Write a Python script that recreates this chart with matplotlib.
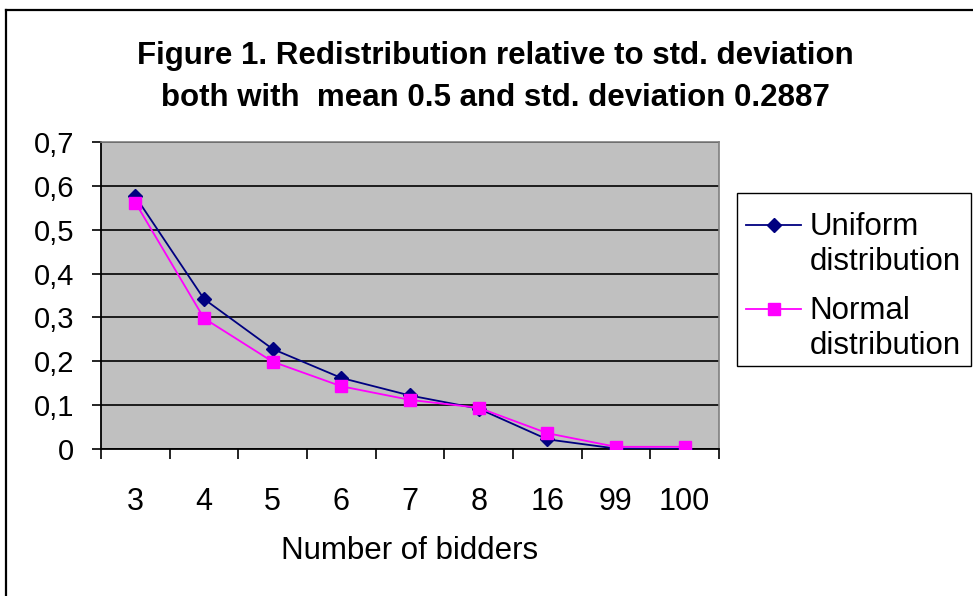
import matplotlib
matplotlib.use("Agg")
import matplotlib.pyplot as plt
from matplotlib.lines import Line2D
from matplotlib.patches import Rectangle
from matplotlib.legend_handler import HandlerLine2D
import numpy as np

categories = ["3", "4", "5", "6", "7", "8", "16", "99", "100"]
uniform = [0.576, 0.342, 0.228, 0.162, 0.122, 0.092, 0.022, 0.001, 0.0]
normal = [0.562, 0.298, 0.199, 0.143, 0.112, 0.094, 0.036, 0.005, 0.005]
y_ticks = [0, 0.1, 0.2, 0.3, 0.4, 0.5, 0.6, 0.7]
y_labels = ["0", "0,1", "0,2", "0,3", "0,4", "0,5", "0,6", "0,7"]

plt.rcParams['font.family'] = ['Liberation Sans', 'DejaVu Sans']

W, H = 973, 596
fig = plt.figure(figsize=(W / 100, H / 100), dpi=100)

# outer chart border (left and top edges visible)
fig.add_artist(Line2D([6 / W, 6 / W], [0, 1 - 10 / H], transform=fig.transFigure,
                      color='black', linewidth=1.6))
fig.add_artist(Line2D([6 / W, 1], [1 - 10 / H, 1 - 10 / H], transform=fig.transFigure,
                      color='black', linewidth=1.6))

x0, x1 = 101, 719
y0, y1 = 142, 449
ax = fig.add_axes([x0 / W, 1 - y1 / H, (x1 - x0) / W, (y1 - y0) / H])
ax.set_facecolor('#C0C0C0')

x = np.arange(len(categories))
l1, = ax.plot(x, uniform, color='#000080', marker='D', markersize=7.5, linewidth=1.3,
              label='Uniform\ndistribution', zorder=3)
l2, = ax.plot(x, normal, color='#FF00FF', marker='s', markersize=8, linewidth=1.3,
              markeredgecolor='#FF00FF', label='Normal\ndistribution', zorder=4)

ax.set_xlim(-0.5, len(categories) - 0.5)
ax.set_ylim(0, 0.7)
ax.set_yticks(y_ticks)
ax.set_yticklabels(y_labels, fontsize=21)
ax.yaxis.grid(True, color='black', linewidth=1.2)
ax.set_axisbelow(True)

ax.set_xticks(x)
ax.set_xticklabels(categories, fontsize=22)
ax.set_xticks(np.arange(-0.5, len(categories), 1.0), minor=True)
ax.tick_params(axis='x', which='major', length=0, pad=27)
ax.tick_params(axis='x', which='minor', length=7, width=1.2, color='black')
ax.tick_params(axis='y', which='major', length=6.5, width=1.2, color='black', pad=13)

for s in ['top', 'right']:
    ax.spines[s].set_color('#808080')
    ax.spines[s].set_linewidth(1.2)
for s in ['left', 'bottom']:
    ax.spines[s].set_color('black')
    ax.spines[s].set_linewidth(1.3)

ax.set_xlabel('Number of bidders', fontsize=22.5, labelpad=14)

fig.text(495 / W, 1 - 56 / H, 'Figure 1. Redistribution relative to std. deviation',
         ha='center', va='center', fontsize=22.5, fontweight='bold')
fig.text(495 / W, 1 - 98 / H, 'both with  mean 0.5 and std. deviation 0.2887',
         ha='center', va='center', fontsize=22.5, fontweight='bold')


class TopAlignedLine(HandlerLine2D):
    """Place the legend handle level with the first line of a two-line label."""
    def create_artists(self, legend, orig_handle, xdescent, ydescent, width, height,
                       fontsize, trans):
        dy = 14.5
        return super().create_artists(legend, orig_handle, xdescent, ydescent - 2 * dy,
                                      width, height, fontsize, trans)


# legend box
fig.add_artist(Rectangle((737 / W, 1 - 366 / H), (971 - 737) / W, (366 - 193) / H,
                         transform=fig.transFigure, fill=False, edgecolor='black',
                         linewidth=1.0))

leg = fig.legend(handles=[l1, l2], loc='upper left',
                 bbox_to_anchor=(737 / W, 1 - 203 / H), fontsize=22.5, frameon=False,
                 borderpad=0.3, handlelength=1.76,
                 handletextpad=0.26, labelspacing=0.62, borderaxespad=0,
                 handler_map={Line2D: TopAlignedLine()})
for t in leg.get_texts():
    t.set_linespacing(1.2)

fig.savefig('out.png', dpi=100)
